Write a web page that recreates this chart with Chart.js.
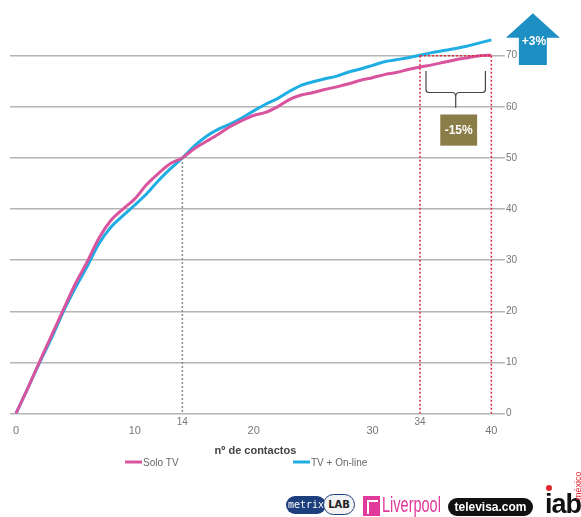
<!DOCTYPE html>
<html>
<head>
<meta charset="utf-8">
<script src="https://cdn.jsdelivr.net/npm/chart.js@4.4.1/dist/chart.umd.min.js"></script>
<style>
  html, body { margin: 0; padding: 0; background: #fff; }
  #wrap { position: relative; width: 581px; height: 517px; overflow: hidden; }
  #chart { position: absolute; left: 0; top: 0; }
  .logo { position: absolute; white-space: nowrap; }
</style>
</head>
<body>
<div id="wrap">
  <canvas id="chart" width="581" height="517"></canvas>
  <!-- Logos unten rechts -->
  <div class="logo" style="left:286px;top:496px;width:40px;height:18px;background:#1d3f7d;border-radius:9px;color:#fff;font:10px 'DejaVu Sans Mono',monospace;line-height:18px;text-align:center;">metrix</div>
  <div class="logo" style="left:323px;top:494px;width:30px;height:19px;background:#f2f2f2;border:1.5px solid #1d3f7d;border-radius:11px;color:#222;font:bold 10px 'DejaVu Sans',sans-serif;line-height:19px;text-align:center;">LAB</div>
  <div class="logo" style="left:363px;top:496px;width:17px;height:20px;background:#e23a9b;"></div>
  <div class="logo" style="left:367px;top:500px;width:9px;height:12px;border-left:2px solid #fff;border-top:2px solid #fff;"></div>
  <div class="logo" style="left:382px;top:492px;color:#e0389b;font:22px 'Liberation Sans',sans-serif;transform:scaleX(0.66);transform-origin:left top;">Liverpool</div>
  <div class="logo" style="left:448px;top:498px;width:85px;height:18px;background:#111;border-radius:9px;color:#fff;font:bold 12px 'Liberation Sans','DejaVu Sans',sans-serif;line-height:18px;text-align:center;">televisa.com</div>
  <div class="logo" style="left:545px;top:489px;color:#111;font:bold 27px 'Liberation Sans','DejaVu Sans',sans-serif;letter-spacing:-1px;">iab</div>
  <div class="logo" style="left:546px;top:485px;width:6px;height:6px;background:#e0262e;border-radius:3px;"></div>
  <div class="logo" style="left:573px;top:500px;color:#e0262e;font:9px 'Liberation Sans',sans-serif;transform:rotate(-90deg);transform-origin:left top;">méxico</div>
</div>
<script>
// Daten
const contacts = [0, 1, 2, 3, 4, 5, 6, 7, 8, 9, 10, 11, 12, 13, 14, 15, 16, 17, 18, 19, 20,
  21, 22, 23, 24, 25, 26, 27, 28, 29, 30, 31, 32, 33, 34, 35, 36, 37, 38, 39, 40];
const soloTV = [0, 5.0, 10.2, 15.3, 20.4, 25.4, 29.7, 34.4, 37.8, 40.0, 42.0, 44.8, 47.0, 48.9, 50.0,
  51.8, 53.2, 54.6, 56.1, 57.3, 58.3, 58.9, 60.0, 61.4, 62.3, 62.8, 63.4, 63.9, 64.5, 65.2, 65.7,
  66.3, 66.7, 67.3, 67.8, 68.2, 68.7, 69.2, 69.6, 70.0, 70.1];
const tvOnline = [0, 5.0, 10.0, 14.8, 20.0, 24.6, 28.8, 33.3, 36.5, 38.7, 40.8, 43.0, 45.6, 47.9, 50.0,
  52.3, 54.2, 55.6, 56.6, 57.8, 59.2, 60.5, 61.6, 63.0, 64.2, 64.9, 65.5, 66.0, 66.8, 67.4, 68.1,
  68.8, 69.2, 69.6, 70.1, 70.6, 71.0, 71.4, 71.9, 72.5, 73.1];
const seriesNames = ['Solo TV', 'TV + On-line'];
const xTicks = [0, 10, 20, 30, 40];
const yTicks = [0, 10, 20, 30, 40, 50, 60, 70];
const markedContacts = [14, 34];
const gapLabel = '-15%';
const upLabel = '+3%';

const PINK = '#d9549e';
const BLUE = '#1eaee3';
const FONT = "'Liberation Sans', Arial, sans-serif";

function toPoints(values) {
    return contacts.map((c, i) => ({ x: c, y: values[i] }));
}

// Hilfslinien, Klammer, Kästen und Legende
const annotations = {
    id: 'annotations',
    afterDatasetsDraw(chart) {
        const ctx = chart.ctx;
        const xs = chart.scales.x, ys = chart.scales.y;
        const y0 = ys.getPixelForValue(0);
        ctx.save();
        ctx.lineWidth = 1.5;

        // graue gepunktete Linie bei 14
        ctx.setLineDash([2, 2]);
        ctx.strokeStyle = '#888';
        let px = xs.getPixelForValue(markedContacts[0]);
        ctx.beginPath();
        ctx.moveTo(px, ys.getPixelForValue(50));
        ctx.lineTo(px, y0);
        ctx.stroke();

        // rote gepunktete Linien 34..40
        ctx.strokeStyle = '#e0283a';
        const x34 = xs.getPixelForValue(markedContacts[1]);
        const x40 = xs.getPixelForValue(40);
        const y70 = ys.getPixelForValue(70);
        ctx.beginPath();
        ctx.moveTo(x34, y70); ctx.lineTo(x34, y0);
        ctx.moveTo(x40, y70); ctx.lineTo(x40, y0);
        ctx.moveTo(x34, y70); ctx.lineTo(x40, y70);
        ctx.stroke();
        ctx.setLineDash([]);

        // Beschriftung 14 und 34
        ctx.fillStyle = '#777';
        ctx.font = '10px ' + FONT;
        ctx.textAlign = 'center';
        ctx.textBaseline = 'middle';
        markedContacts.forEach(c => ctx.fillText(String(c), xs.getPixelForValue(c), y0 + 9));

        // Klammer
        const bl = xs.getPixelForValue(34.5), br = xs.getPixelForValue(39.5);
        const bm = (bl + br) / 2;
        const bt = ys.getPixelForValue(67), bb = ys.getPixelForValue(62.8);
        const bs = ys.getPixelForValue(59.8);
        ctx.strokeStyle = '#444';
        ctx.lineWidth = 1.2;
        ctx.beginPath();
        ctx.moveTo(bl, bt);
        ctx.lineTo(bl, bb - 3);
        ctx.quadraticCurveTo(bl, bb, bl + 3, bb);
        ctx.lineTo(bm - 4, bb);
        ctx.quadraticCurveTo(bm, bb, bm, bb + 4);
        ctx.quadraticCurveTo(bm, bb, bm + 4, bb);
        ctx.lineTo(br - 3, bb);
        ctx.quadraticCurveTo(br, bb, br, bb - 3);
        ctx.lineTo(br, bt);
        ctx.moveTo(bm, bb + 4);
        ctx.lineTo(bm, bs);
        ctx.stroke();

        // -15% Kasten
        const kx1 = xs.getPixelForValue(35.7), kx2 = xs.getPixelForValue(38.8);
        const ky1 = ys.getPixelForValue(58.5), ky2 = ys.getPixelForValue(52.4);
        ctx.fillStyle = '#8b7d47';
        ctx.fillRect(kx1, ky1, kx2 - kx1, ky2 - ky1);
        ctx.fillStyle = '#fff';
        ctx.font = 'bold 12px ' + FONT;
        ctx.fillText(gapLabel, (kx1 + kx2) / 2, (ky1 + ky2) / 2 + 1);

        // +3% Pfeil
        const ac = chart.chartArea.right + 32;
        const aTop = ys.getPixelForValue(78.3);
        const aMid = ys.getPixelForValue(73.5);
        const aBot = ys.getPixelForValue(68.2);
        ctx.fillStyle = '#1e8fc3';
        ctx.beginPath();
        ctx.moveTo(ac, aTop);
        ctx.lineTo(ac + 27, aMid);
        ctx.lineTo(ac + 14, aMid);
        ctx.lineTo(ac + 14, aBot);
        ctx.lineTo(ac - 14, aBot);
        ctx.lineTo(ac - 14, aMid);
        ctx.lineTo(ac - 27, aMid);
        ctx.closePath();
        ctx.fill();
        ctx.fillStyle = '#fff';
        ctx.fillText(upLabel, ac + 1, aMid + 4);

        // Legende
        const legendY = 462;
        const items = [{ x: 125, i: 0 }, { x: 293, i: 1 }];
        ctx.textAlign = 'left';
        ctx.font = '10px ' + FONT;
        items.forEach(it => {
            const ds = chart.data.datasets[it.i];
            ctx.strokeStyle = ds.borderColor;
            ctx.lineWidth = 3;
            ctx.beginPath();
            ctx.moveTo(it.x, legendY);
            ctx.lineTo(it.x + 17, legendY);
            ctx.stroke();
            ctx.fillStyle = '#666';
            ctx.fillText(ds.label, it.x + 18, legendY + 1);
        });
        ctx.restore();
    }
};

new Chart(document.getElementById('chart'), {
    type: 'line',
    data: {
        datasets: [{
            label: seriesNames[0],
            data: toPoints(soloTV),
            borderColor: PINK,
            borderWidth: 3,
            pointRadius: 0,
            tension: 0.3
        }, {
            label: seriesNames[1],
            data: toPoints(tvOnline),
            borderColor: BLUE,
            borderWidth: 3,
            pointRadius: 0,
            tension: 0.3
        }]
    },
    options: {
        responsive: false,
        animation: false,
        layout: { padding: { left: 10, right: 63, top: 25, bottom: 59 } },
        plugins: { legend: { display: false }, tooltip: { enabled: false } },
        scales: {
            x: {
                type: 'linear',
                min: -0.5,
                max: 40.8,
                afterBuildTicks: axis => { axis.ticks = xTicks.map(v => ({ value: v })); },
                grid: { display: false, drawTicks: false },
                border: { display: false },
                ticks: { color: '#777', padding: 11, font: { family: FONT, size: 11 } },
                title: {
                    display: true,
                    text: 'nº de contactos',
                    color: '#444',
                    padding: { top: -4, bottom: 0 },
                    font: { family: FONT, size: 11, weight: 'bold' }
                }
            },
            y: {
                position: 'right',
                min: 0,
                max: 76,
                afterBuildTicks: axis => { axis.ticks = yTicks.map(v => ({ value: v })); },
                grid: { color: '#b4b4b4', lineWidth: 1.5, tickLength: 4 },
                border: { display: false },
                ticks: { color: '#777', padding: 1, font: { family: FONT, size: 10 } }
            }
        }
    },
    plugins: [annotations]
});
</script>
</body>
</html>
